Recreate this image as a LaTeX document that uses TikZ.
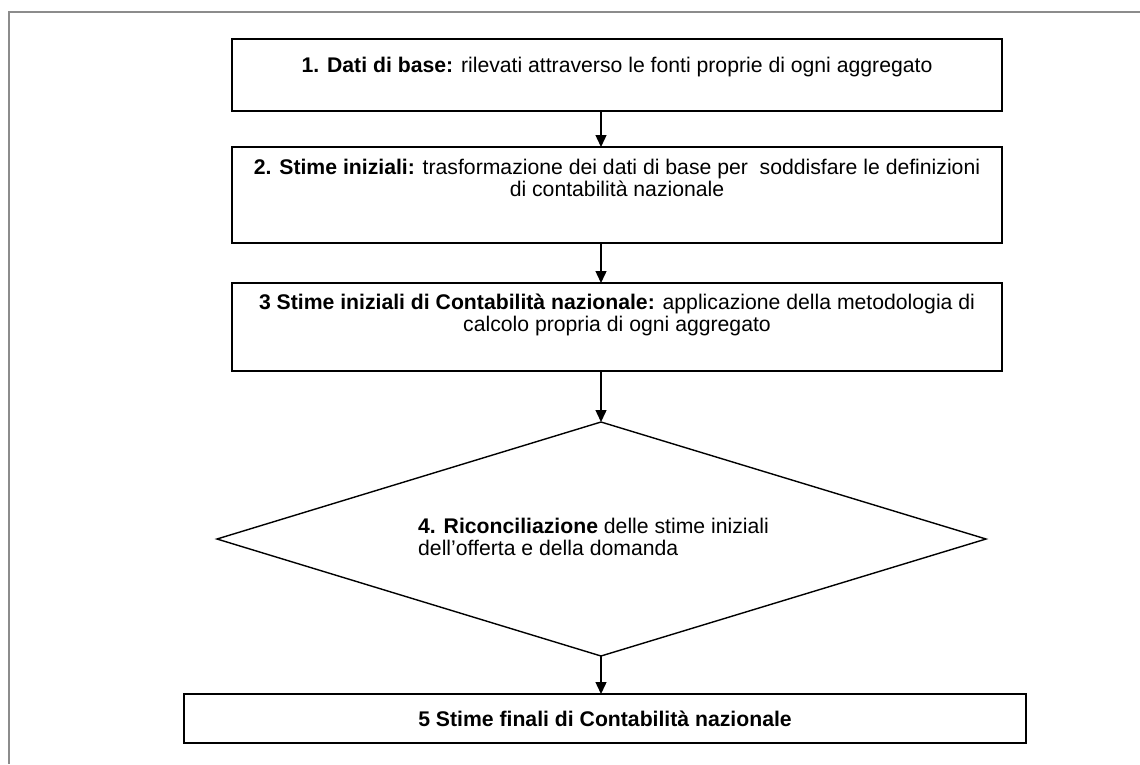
\documentclass[tikz,border=0pt]{standalone}
\usepackage{fontspec}
\setmainfont{Liberation Sans}
\usetikzlibrary{arrows.meta}
\begin{document}
\begin{tikzpicture}[x=1pt,y=-1pt,
  box/.style={draw=black,line width=1.4pt,fill=white},
  finalbox/.style={draw=black,line width=2.4pt,fill=white},
  frame/.style={draw=gray!90,line width=1.6pt},
  txt/.style={inner sep=0pt,align=center,font=\fontsize{21.2}{22.5}\selectfont},
  ltxt/.style={inner sep=0pt,align=left,font=\fontsize{21.2}{22.5}\selectfont},
  arr/.style={line width=1.4pt,-{Triangle[length=12pt,width=11pt]}}]
\useasboundingbox (0,0) rectangle (1140,764);
\fill[white] (0,0) rectangle (1140,764);

% outer frame (top and left edges)
\draw[frame] (1140,12) -- (9,12) -- (9,764);

% process boxes
\draw[box] (232,39) rectangle (1002,111);
\coordinate (b1s) at (601,111);
\coordinate (b2n) at (601,147);
\draw[box] (232,147) rectangle (1002,243);
\coordinate (b2s) at (601,243);
\coordinate (b3n) at (601,283);
\draw[box] (232,283) rectangle (1002,371);
\coordinate (b3s) at (601,371);

% reconciliation diamond
\coordinate (dT) at (601,422);
\coordinate (dR) at (986,539);
\coordinate (dB) at (601,656);
\coordinate (dL) at (217,539);
\draw[line width=1.4pt,line join=miter] (dT) -- (dR) -- (dB) -- (dL) -- cycle;

% final box
\draw[finalbox] (184,694) rectangle (1026,743);
\coordinate (b5n) at (601,694);

% texts
\node[txt] (t1) at (617,67) {\textbf{1. Dati di base:} rilevati attraverso le fonti proprie di ogni aggregato};
\node[txt] (t2) at (617,178) {\textbf{2. Stime iniziali:} trasformazione dei dati di base per\ \ soddisfare le definizioni\\di contabilità nazionale};
\node[txt] (t3) at (617,315) {\textbf{3 Stime iniziali di Contabilità nazionale:} applicazione della metodologia di\\calcolo propria di ogni aggregato};
\node[ltxt,anchor=west] (t4) at (418,537) {\textbf{4. Riconciliazione} delle stime iniziali\\dell’offerta e della domanda};
\node[txt] (t5) at (605,719) {\textbf{5 Stime finali di Contabilità nazionale}};

% connectors
\draw[arr] (b1s) -- (b2n);
\draw[arr] (b2s) -- (b3n);
\draw[arr] (b3s) -- (dT);
\draw[arr] (dB) -- (b5n);
\end{tikzpicture}
\end{document}
